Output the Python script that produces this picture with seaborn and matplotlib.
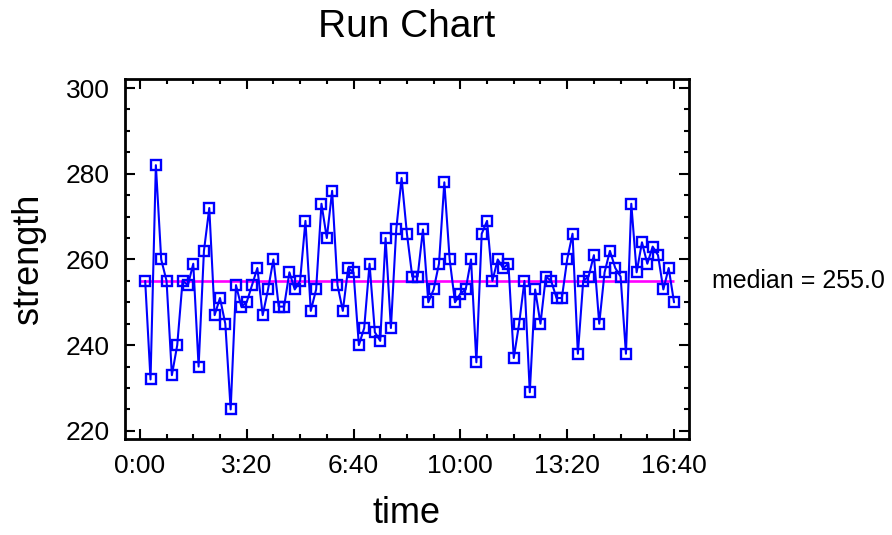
import matplotlib
matplotlib.use("Agg")
import matplotlib.pyplot as plt
import numpy as np
import pandas as pd
import seaborn as sns
from matplotlib.ticker import FuncFormatter, MultipleLocator

# observation time in minutes and measured strength
minutes = [
    10, 20, 30, 40, 50, 60, 70, 80, 90, 100,
    110, 120, 130, 140, 150, 160, 170, 180, 190, 200,
    210, 220, 230, 240, 250, 260, 270, 280, 290, 300,
    310, 320, 330, 340, 350, 360, 370, 380, 390, 400,
    410, 420, 430, 440, 450, 460, 470, 480, 490, 500,
    510, 520, 530, 540, 550, 560, 570, 580, 590, 600,
    610, 620, 630, 640, 650, 660, 670, 680, 690, 700,
    710, 720, 730, 740, 750, 760, 770, 780, 790, 800,
    810, 820, 830, 840, 850, 860, 870, 880, 890, 900,
    910, 920, 930, 940, 950, 960, 970, 980, 990, 1000,
]
strength = [
    255, 232, 282, 260, 255, 233, 240, 255, 254, 259,
    235, 262, 272, 247, 251, 245, 225, 254, 249, 250,
    254, 258, 247, 253, 260, 249, 249, 257, 253, 255,
    269, 248, 253, 273, 265, 276, 254, 248, 258, 257,
    240, 244, 259, 243, 241, 265, 244, 267, 279, 266,
    256, 256, 267, 250, 253, 259, 278, 260, 250, 252,
    253, 260, 236, 266, 269, 255, 260, 258, 259, 237,
    245, 255, 229, 253, 245, 256, 255, 251, 251, 260,
    266, 238, 255, 256, 261, 245, 257, 262, 258, 256,
    238, 273, 257, 264, 259, 263, 261, 253, 258, 250,
]
x_ticks = [0, 200, 400, 600, 800, 1000]
y_ticks = [220, 240, 260, 280, 300]

df = pd.DataFrame({"time": minutes, "strength": strength})
median = float(np.median(strength))

sns.set_style("ticks")
plt.rcParams["font.family"] = ["Liberation Sans", "DejaVu Sans"]
plt.rcParams["text.color"] = "black"
plt.rcParams["axes.labelcolor"] = "black"
plt.rcParams["xtick.color"] = "black"
plt.rcParams["ytick.color"] = "black"
plt.rcParams["axes.edgecolor"] = "black"


def fmt_time(v, pos):
    v = int(round(v))
    return f"{v // 60}:{v % 60:02d}"


fig, ax = plt.subplots(figsize=(8.92, 5.35), dpi=100)
fig.subplots_adjust(left=0.140, right=0.7724, bottom=0.1794, top=0.8523)

sns.lineplot(
    data=df, x="time", y="strength", ax=ax,
    color="#0000FF", linewidth=1.5,
    marker="s", markersize=6.8, markerfacecolor="none",
    markeredgecolor="#0000FF", markeredgewidth=1.7,
)
ax.hlines(median, x_ticks[0], x_ticks[-1], color="#FF00FF", linewidth=1.9, zorder=1)
ax.text(1.041, median, f"median = {median:.1f}", transform=ax.get_yaxis_transform(),
        fontsize=18, va="center", ha="left", color="black")

ax.set_xlim(-28, 1028)
ax.set_ylim(218.1, 302.1)
ax.set_xticks(x_ticks)
ax.set_yticks(y_ticks)
ax.xaxis.set_major_formatter(FuncFormatter(fmt_time))
ax.xaxis.set_minor_locator(MultipleLocator(50))
ax.yaxis.set_minor_locator(MultipleLocator(5))
ax.tick_params(which="both", direction="in", top=True, right=True, width=1.5, labelsize=19)
ax.tick_params(which="major", length=7, pad=11)
ax.tick_params(which="minor", length=3.5)
for sp in ax.spines.values():
    sp.set_linewidth(2)
    sp.set_visible(True)

ax.set_title("Run Chart", fontsize=28, pad=30, color="black")
ax.set_xlabel("time", fontsize=26, labelpad=13)
ax.set_ylabel("strength", fontsize=26, labelpad=14)

plt.savefig("out.png", dpi=100)
plt.close()
